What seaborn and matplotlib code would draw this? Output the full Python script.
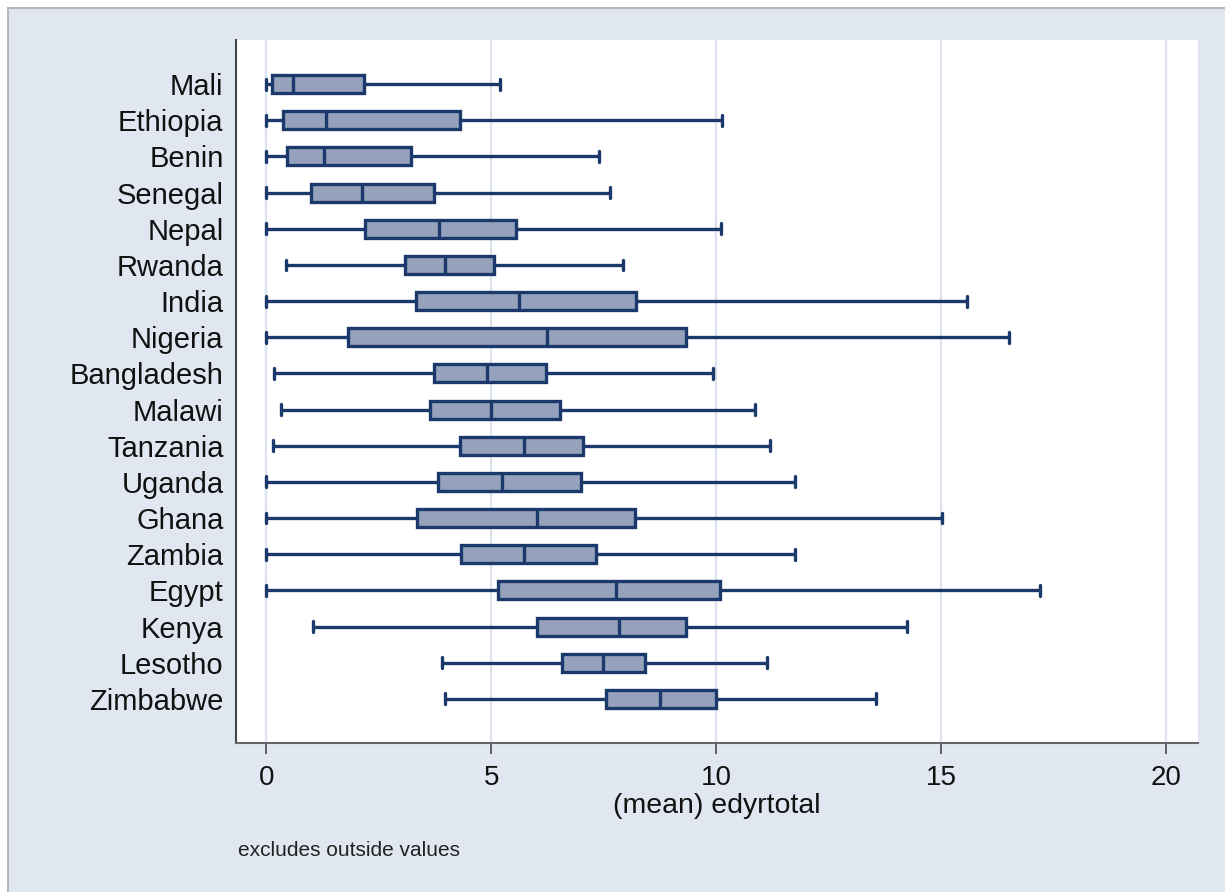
import numpy as np
import pandas as pd
import matplotlib
matplotlib.use("Agg")
import matplotlib.pyplot as plt
from matplotlib.patches import Rectangle
import seaborn as sns

# Years of schooling summary per country: lower adjacent, 25th pct, median, 75th pct, upper adjacent
countries = ["Mali", "Ethiopia", "Benin", "Senegal", "Nepal", "Rwanda", "India",
             "Nigeria", "Bangladesh", "Malawi", "Tanzania", "Uganda", "Ghana",
             "Zambia", "Egypt", "Kenya", "Lesotho", "Zimbabwe"]
lower_adj = [0.00, 0.00, 0.00, 0.00, 0.00, 0.45, 0.00, 0.00, 0.18, 0.33, 0.15,
             0.00, 0.00, 0.00, 0.00, 1.04, 3.91, 3.98]
p25 = [0.14, 0.37, 0.47, 1.00, 2.20, 3.08, 3.34, 1.81, 3.73, 3.64, 4.31,
       3.81, 3.35, 4.33, 5.16, 6.02, 6.57, 7.56]
p50 = [0.59, 1.32, 1.29, 2.13, 3.85, 3.98, 5.63, 6.25, 4.90, 5.00, 5.73,
       5.24, 6.02, 5.73, 7.78, 7.84, 7.48, 8.76]
p75 = [2.17, 4.31, 3.23, 3.72, 5.56, 5.07, 8.21, 9.32, 6.22, 6.52, 7.05,
       6.99, 8.20, 7.32, 10.08, 9.33, 8.41, 10.00]
upper_adj = [5.20, 10.13, 7.40, 7.64, 10.10, 7.94, 15.57, 16.50, 9.94, 10.87, 11.19,
             11.76, 15.01, 11.76, 17.19, 14.25, 11.13, 13.56]

x_ticks = [0, 5, 10, 15, 20]
x_title = "(mean) edyrtotal"
note = "excludes outside values"

# Five-number rows per country; with whiskers at the 0th/100th percentile
# the drawn box reproduces these summary values exactly.
rows = []
for c, a, b, m, d, e in zip(countries, lower_adj, p25, p50, p75, upper_adj):
    for v in (a, b, m, d, e):
        rows.append({"country": c, "edyrtotal": v})
df = pd.DataFrame(rows)

bg = "#E1E7F0"
box_face = "#96A2BC"
box_edge = "#1B3A6B"
grid_col = "#DCE3EE"
axis_col = "#444444"

sns.set_theme(style="white")
plt.rcParams["font.family"] = ["Liberation Sans", "DejaVu Sans"]

W, H = 1225, 892
fig = plt.figure(figsize=(W / 100, H / 100), dpi=100, facecolor="white")
fig.patches.append(Rectangle((8 / W, -0.02), 1.05, (H - 8) / H + 0.02,
                             transform=fig.transFigure, facecolor=bg,
                             edgecolor="#B4B8BE", linewidth=1.5, zorder=-10))

ax = fig.add_axes([236 / W, 1 - 743 / H, (1198 - 236) / W, (743 - 40) / H])
ax.set_facecolor("white")

sns.boxplot(data=df, x="edyrtotal", y="country", order=countries, orient="h",
            whis=(0, 100), width=0.5, color=box_face, linecolor=box_edge,
            linewidth=2.4, showfliers=False, saturation=1, capwidths=0.3, ax=ax)

ax.set_xlim(-0.67, 20.71)
ax.set_ylim(len(countries) - 1 + 1.22, -1.22)
ax.set_xticks(x_ticks)
ax.set_xticklabels([str(t) for t in x_ticks])
for t in x_ticks:
    ax.axvline(t, color=grid_col, linewidth=1.6, zorder=0)

for s in ["top", "right"]:
    ax.spines[s].set_visible(False)
ax.spines["left"].set_color(axis_col)
ax.spines["bottom"].set_color("#666666")
ax.spines["left"].set_linewidth(1.5)
ax.spines["bottom"].set_linewidth(1.5)

ax.tick_params(axis="x", direction="out", length=8, width=1.3, color="#555555",
               pad=8, labelsize=20, labelcolor="#111111", bottom=True)
ax.tick_params(axis="y", length=0, pad=9, labelsize=21, labelcolor="#111111")

ax.set_xlabel(x_title, fontsize=20.5, color="#111111", labelpad=1)
ax.set_ylabel("")

fig.text(238 / W, 1 - 850 / H, note, fontsize=15, color="#222222",
         ha="left", va="center")

fig.savefig("out.png", dpi=100, facecolor=fig.get_facecolor())
